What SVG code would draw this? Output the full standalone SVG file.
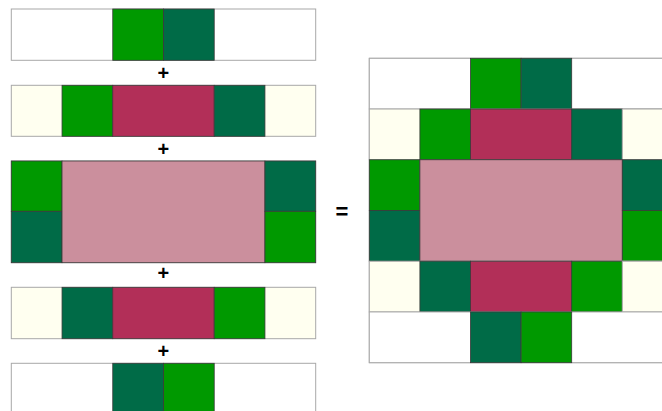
<svg xmlns="http://www.w3.org/2000/svg" width="662" height="411" viewBox="0 0 662 411">
<style>
.w{fill:#ffffff;stroke:#a8a8a8;stroke-width:1}
.c{fill:#fffff0;stroke:#a8a8a8;stroke-width:1}
.g{fill:#009900;stroke:#3a3a3a;stroke-width:0.8}
.d{fill:#006b47;stroke:#3a3a3a;stroke-width:0.8}
.r{fill:#b22f58;stroke:#3a3a3a;stroke-width:0.8}
.p{fill:#cb8f9d;stroke:#3a3a3a;stroke-width:0.8}
.op{font-family:"Liberation Sans",Arial,sans-serif;font-weight:bold;fill:#000;text-anchor:middle}
</style>
<rect width="662" height="411" fill="#ffffff"/>
<g id="row1">
<rect class="w" x="11.3" y="9" width="304.4" height="51.3"/>
<rect class="g" x="112.76" y="9" width="50.73" height="51.3"/>
<rect class="d" x="163.49" y="9" width="50.73" height="51.3"/>
</g>
<g id="row2">
<rect class="c" x="11.3" y="85.3" width="304.4" height="51"/>
<rect class="g" x="62.03" y="85.3" width="50.73" height="51"/>
<rect class="r" x="112.76" y="85.3" width="101.46" height="51"/>
<rect class="d" x="214.22" y="85.3" width="50.73" height="51"/>
</g>
<g id="row3">
<rect class="w" x="11.3" y="161" width="304.4" height="101.7"/>
<rect class="g" x="11.3" y="161" width="50.73" height="50.3"/>
<rect class="d" x="11.3" y="211.3" width="50.73" height="51.4"/>
<rect class="p" x="62.03" y="161" width="202.92" height="101.7"/>
<rect class="d" x="264.95" y="161" width="50.73" height="50.3"/>
<rect class="g" x="264.95" y="211.3" width="50.73" height="51.4"/>
</g>
<g id="row4">
<rect class="c" x="11.3" y="287.3" width="304.4" height="51.4"/>
<rect class="d" x="62.03" y="287.3" width="50.73" height="51.4"/>
<rect class="r" x="112.76" y="287.3" width="101.46" height="51.4"/>
<rect class="g" x="214.22" y="287.3" width="50.73" height="51.4"/>
</g>
<g id="row5">
<rect class="w" x="11.3" y="363.3" width="304.4" height="51.3"/>
<rect class="d" x="112.76" y="363.3" width="50.73" height="51.3"/>
<rect class="g" x="163.49" y="363.3" width="50.73" height="51.3"/>
</g>
<g id="operators">
<text class="op" x="163.4" y="80" font-size="20">+</text>
<text class="op" x="163.4" y="155.5" font-size="20">+</text>
<text class="op" x="163.4" y="280" font-size="20">+</text>
<text class="op" x="163.4" y="357.5" font-size="20">+</text>
<text class="op" x="342" y="219" font-size="22">=</text>
</g>
<g id="result">
<rect class="w" x="369.3" y="58.3" width="303.6" height="304.38"/>
<rect class="w" x="369.3" y="58.3" width="303.6" height="50.73"/>
<rect class="g" x="470.5" y="58.3" width="50.6" height="50.73"/>
<rect class="d" x="521.1" y="58.3" width="50.6" height="50.73"/>
<rect class="c" x="369.3" y="109.03" width="303.6" height="50.73"/>
<rect class="g" x="419.9" y="109.03" width="50.6" height="50.73"/>
<rect class="r" x="470.5" y="109.03" width="101.2" height="50.73"/>
<rect class="d" x="571.7" y="109.03" width="50.6" height="50.73"/>
<rect class="c" x="622.3" y="109.03" width="50.6" height="50.73"/>
<rect class="g" x="369.3" y="159.76" width="50.6" height="50.73"/>
<rect class="d" x="369.3" y="210.49" width="50.6" height="50.73"/>
<rect class="p" x="419.9" y="159.76" width="202.4" height="101.46"/>
<rect class="d" x="622.3" y="159.76" width="50.6" height="50.73"/>
<rect class="g" x="622.3" y="210.49" width="50.6" height="50.73"/>
<rect class="c" x="369.3" y="261.22" width="303.6" height="50.73"/>
<rect class="d" x="419.9" y="261.22" width="50.6" height="50.73"/>
<rect class="r" x="470.5" y="261.22" width="101.2" height="50.73"/>
<rect class="g" x="571.7" y="261.22" width="50.6" height="50.73"/>
<rect class="c" x="622.3" y="261.22" width="50.6" height="50.73"/>
<rect class="w" x="369.3" y="311.95" width="303.6" height="50.73"/>
<rect class="d" x="470.5" y="311.95" width="50.6" height="50.73"/>
<rect class="g" x="521.1" y="311.95" width="50.6" height="50.73"/>
</g>
</svg>
